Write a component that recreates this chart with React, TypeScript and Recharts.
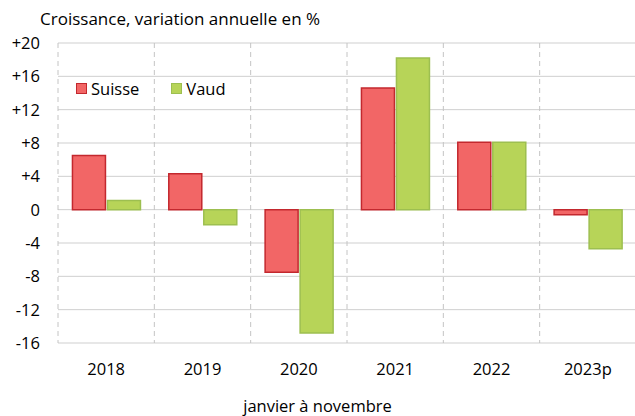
import { Bar, BarChart, CartesianGrid, XAxis, YAxis } from 'recharts';

const years = ['2018', '2019', '2020', '2021', '2022', '2023p'];
const suisse = [6.5, 4.3, -7.5, 14.6, 8.1, -0.6];
const vaud = [1.1, -1.8, -14.8, 18.2, 8.1, -4.7];
const yTicks = [-16, -12, -8, -4, 0, 4, 8, 12, 16, 20];

const data = years.map((year, i) => ({ year, Suisse: suisse[i], Vaud: vaud[i] }));

const font = '"Open Sans", sans-serif';

const series = [
  { key: 'Suisse', fill: '#f26666', stroke: '#c3282e' },
  { key: 'Vaud', fill: '#b7d458', stroke: '#9dbf50' },
];

function LegendBox() {
  return (
    <div
      style={{
        position: 'absolute',
        left: 76,
        top: 77,
        display: 'flex',
        fontFamily: font,
        fontSize: 16.5,
        color: '#000',
      }}
    >
      {series.map((s) => (
        <div key={s.key} style={{ display: 'flex', alignItems: 'center', marginRight: 32 }}>
          <span
            style={{
              width: 9,
              height: 9,
              background: s.fill,
              border: `1.5px solid ${s.stroke}`,
              marginRight: 4,
            }}
          />
          {s.key}
        </div>
      ))}
    </div>
  );
}

const verticalLines = ({ offset }: any) =>
  years.map((_, i) => offset.left + (i * offset.width) / years.length).concat(offset.left + offset.width);

export default function App() {
  return (
    <div style={{ position: 'absolute', left: 0, top: 0, width: 635, height: 416, background: '#fff', overflow: 'hidden' }}>
      <div style={{ position: 'absolute', left: 40, top: 7, fontFamily: font, fontSize: 17 }}>
        Croissance, variation annuelle en %
      </div>
      <BarChart
        width={636}
        height={416}
        data={data}
        margin={{ top: 43, right: 0, bottom: 43, left: 0 }}
        barGap={2}
        barCategoryGap="15%"
        style={{ fontFamily: font }}
      >
        <CartesianGrid vertical={false} stroke="#cfcfcf" />
        <CartesianGrid
          horizontal={false}
          stroke="#c4c4c4"
          strokeDasharray="5 4"
          verticalCoordinatesGenerator={verticalLines}
        />
        <XAxis
          dataKey="year"
          height={30}
          axisLine={false}
          tickLine={false}
          tickSize={0}
          tickMargin={20}
          tick={{ fill: '#000', fontSize: 16.5 }}
        />
        <YAxis
          width={58}
          domain={[-16, 20]}
          ticks={yTicks}
          axisLine={false}
          tickLine={false}
          tickSize={0}
          tickMargin={18}
          interval={0}
          tick={{ fill: '#000', fontSize: 16.5 }}
          tickFormatter={(v: number) => (v > 0 ? `+${v}` : `${v}`)}
        />
        {series.map((s) => (
          <Bar
            key={s.key}
            dataKey={s.key}
            fill={s.fill}
            stroke={s.stroke}
            strokeWidth={1.5}
            isAnimationActive={false}
          />
        ))}
      </BarChart>
      <LegendBox />
      <div
        style={{
          position: 'absolute',
          left: 0,
          width: 635,
          top: 394,
          textAlign: 'center',
          fontFamily: font,
          fontSize: 16.5,
        }}
      >
        janvier à novembre
      </div>
    </div>
  );
}
